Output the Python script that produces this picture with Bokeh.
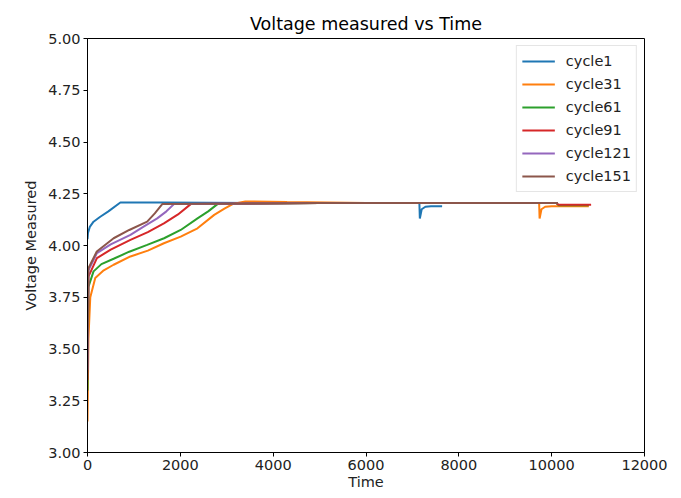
from bokeh.plotting import figure
from bokeh.models import FixedTicker, NumeralTickFormatter, Legend, LegendItem, Range1d
from bokeh.embed import file_html
from bokeh.resources import INLINE

# ---- data ----
cycle_names = ["cycle1", "cycle31", "cycle61", "cycle91", "cycle121", "cycle151"]
colors = ["#1f77b4", "#ff7f0e", "#2ca02c", "#d62728", "#9467bd", "#8c564b"]

cycle1_t = [0, 10, 50, 130, 275, 450, 708, 1600, 4000, 7150, 7160, 7200, 7280, 7400, 7640]
cycle1_v = [4.03, 4.06, 4.09, 4.115, 4.139, 4.165, 4.208, 4.208, 4.205, 4.205, 4.13, 4.175, 4.187, 4.19, 4.19]

cycle31_t = [0, 20, 60, 167, 350, 563, 925, 1300, 1646, 2008, 2370, 2730, 2950, 3127, 3400,
             4300, 6000, 9730, 9740, 9780, 9860, 10000, 10800]
cycle31_v = [3.15, 3.55, 3.75, 3.843, 3.88, 3.907, 3.947, 3.975, 4.011, 4.043, 4.083, 4.148, 4.178, 4.20, 4.213,
             4.21, 4.205, 4.205, 4.13, 4.175, 4.187, 4.19, 4.19]

cycle61_t = [0, 20, 130, 300, 563, 900, 1286, 1650, 2008, 2370, 2600, 2800, 5000, 10100, 10150, 10800]
cycle61_v = [3.30, 3.80, 3.875, 3.91, 3.936, 3.97, 4.003, 4.035, 4.075, 4.131, 4.165, 4.20, 4.205, 4.205, 4.195, 4.195]

cycle91_t = [0, 20, 203, 500, 925, 1300, 1646, 1950, 2224, 5000, 10100, 10150, 10850]
cycle91_v = [3.35, 3.85, 3.939, 3.98, 4.027, 4.065, 4.107, 4.15, 4.20, 4.205, 4.205, 4.197, 4.197]

cycle121_t = [0, 20, 203, 500, 925, 1200, 1502, 1700, 1863, 5000, 10130]
cycle121_v = [3.40, 3.88, 3.963, 4.005, 4.051, 4.09, 4.131, 4.165, 4.20, 4.205, 4.205]

cycle151_t = [0, 20, 200, 563, 900, 1286, 1450, 1610, 5000, 10136]
cycle151_v = [3.40, 3.89, 3.971, 4.035, 4.075, 4.115, 4.155, 4.20, 4.205, 4.205]

series_t = [cycle1_t, cycle31_t, cycle61_t, cycle91_t, cycle121_t, cycle151_t]
series_v = [cycle1_v, cycle31_v, cycle61_v, cycle91_v, cycle121_v, cycle151_v]

x_ticks = [0, 2000, 4000, 6000, 8000, 10000, 12000]
y_ticks = [3.0, 3.25, 3.5, 3.75, 4.0, 4.25, 4.5, 4.75, 5.0]

FONT = "DejaVu Sans"
FS = "14.5px"

p = figure(width=681, height=498, output_backend="svg", toolbar_location=None,
           x_range=Range1d(0, 12000), y_range=Range1d(3.0, 5.0),
           title="Voltage measured vs Time",
           min_border_left=87, min_border_right=37, min_border_top=38, min_border_bottom=46)

p.title.align = "center"
p.title.text_font = FONT
p.title.text_font_size = "17.5px"
p.title.text_font_style = "normal"
p.title.text_color = "#000000"

p.xgrid.visible = False
p.ygrid.visible = False
p.outline_line_color = "#000000"
p.outline_line_width = 1
p.background_fill_color = "white"
p.border_fill_color = "white"

for ax in (p.xaxis[0], p.yaxis[0]):
    ax.axis_label_text_font = FONT
    ax.axis_label_text_font_size = FS
    ax.axis_label_text_font_style = "normal"
    ax.axis_label_text_color = "#222222"
    ax.major_label_text_font = FONT
    ax.major_label_text_font_size = FS
    ax.major_label_text_color = "#222222"
    ax.minor_tick_line_color = None
    ax.major_tick_in = 0
    ax.major_tick_out = 4
    ax.axis_line_color = "#000000"
    ax.major_tick_line_color = "#000000"

p.xaxis.axis_label = "Time"
p.yaxis.axis_label = "Voltage Measured"
p.xaxis.ticker = FixedTicker(ticks=x_ticks)
p.yaxis.ticker = FixedTicker(ticks=y_ticks)
p.yaxis.formatter = NumeralTickFormatter(format="0.00")
p.xaxis.major_label_standoff = 3
p.yaxis.major_label_standoff = 3
p.xaxis.axis_label_standoff = 1
p.yaxis.axis_label_standoff = 6

items = []
for name, col, t, v in zip(cycle_names, colors, series_t, series_v):
    r = p.line(t, v, line_color=col, line_width=2)
    items.append(LegendItem(label=name, renderers=[r]))

legend = Legend(items=items, location="top_right")
legend.label_text_font = FONT
legend.label_text_font_size = FS
legend.label_text_color = "#222222"
legend.glyph_width = 33
legend.glyph_height = 20
legend.label_height = 20
legend.label_standoff = 11
legend.spacing = 3
legend.padding = 5
legend.margin = 7
legend.border_line_color = "#cccccc"
legend.border_line_width = 1
legend.background_fill_alpha = 0.8
p.add_layout(legend)

open("out.html", "w").write(file_html(p, INLINE))
